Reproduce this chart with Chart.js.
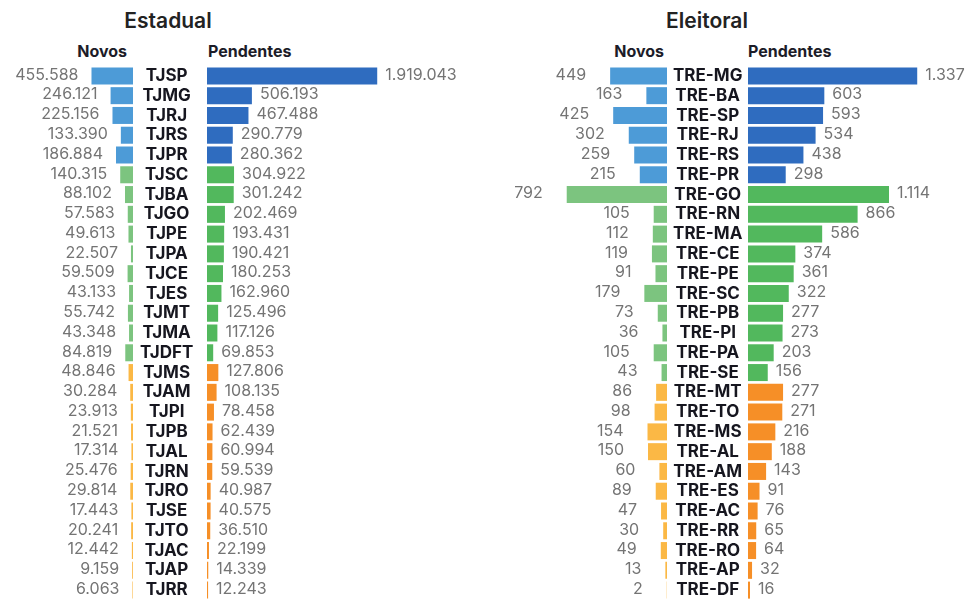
<!DOCTYPE html>
<html>
<head>
<meta charset="utf-8">
<script src="https://cdn.jsdelivr.net/npm/chart.js@4.4.1/dist/chart.umd.min.js"></script>
<style>
  body { margin: 0; background: #fff; width: 970px; height: 601px; overflow: hidden; font-family: Inter, "Noto Sans", sans-serif; }
  .box { position: absolute; }
  .title { position: absolute; font-size: 21px; font-weight: 600; color: #222; transform: translateX(-50%); top: 8px; }
  .head { position: absolute; font-size: 16px; font-weight: 700; color: #1c1c28; top: 41px; }
</style>
</head>
<body>

<div class="title" style="left:168px">Estadual</div>
<div class="head" style="right:843px">Novos</div>
<div class="head" style="left:208px">Pendentes</div>

<div class="title" style="left:707px">Eleitoral</div>
<div class="head" style="right:306px">Novos</div>
<div class="head" style="left:748px">Pendentes</div>

<canvas id="estNovos" class="box" style="left:10px;top:66px" width="197" height="534"></canvas>
<canvas id="estPend" class="box" style="left:207px;top:66px" width="263" height="534"></canvas>
<canvas id="eleNovos" class="box" style="left:500px;top:66px" width="248" height="534"></canvas>
<canvas id="elePend" class="box" style="left:748px;top:66px" width="222" height="534"></canvas>

<script>
// Justiça Estadual
const tribunaisEstadual = ['TJSP', 'TJMG', 'TJRJ', 'TJRS', 'TJPR', 'TJSC', 'TJBA', 'TJGO', 'TJPE', 'TJPA',
  'TJCE', 'TJES', 'TJMT', 'TJMA', 'TJDFT', 'TJMS', 'TJAM', 'TJPI', 'TJPB', 'TJAL', 'TJRN', 'TJRO', 'TJSE',
  'TJTO', 'TJAC', 'TJAP', 'TJRR'];
const novosEstadual = [455588, 246121, 225156, 133390, 186884, 140315, 88102, 57583, 49613, 22507,
  59509, 43133, 55742, 43348, 84819, 48846, 30284, 23913, 21521, 17314, 25476, 29814, 17443,
  20241, 12442, 9159, 6063];
const pendentesEstadual = [1919043, 506193, 467488, 290779, 280362, 304922, 301242, 202469, 193431, 190421,
  180253, 162960, 125496, 117126, 69853, 127806, 108135, 78458, 62439, 60994, 59539, 40987, 40575,
  36510, 22199, 14339, 12243];
const porteEstadual = ['grande', 'grande', 'grande', 'grande', 'grande',
  'medio', 'medio', 'medio', 'medio', 'medio', 'medio', 'medio', 'medio', 'medio', 'medio',
  'pequeno', 'pequeno', 'pequeno', 'pequeno', 'pequeno', 'pequeno', 'pequeno', 'pequeno',
  'pequeno', 'pequeno', 'pequeno', 'pequeno'];

// Justiça Eleitoral
const tribunaisEleitoral = ['TRE-MG', 'TRE-BA', 'TRE-SP', 'TRE-RJ', 'TRE-RS', 'TRE-PR', 'TRE-GO', 'TRE-RN',
  'TRE-MA', 'TRE-CE', 'TRE-PE', 'TRE-SC', 'TRE-PB', 'TRE-PI', 'TRE-PA', 'TRE-SE', 'TRE-MT', 'TRE-TO',
  'TRE-MS', 'TRE-AL', 'TRE-AM', 'TRE-ES', 'TRE-AC', 'TRE-RR', 'TRE-RO', 'TRE-AP', 'TRE-DF'];
const novosEleitoral = [449, 163, 425, 302, 259, 215, 792, 105, 112, 119, 91, 179, 73, 36, 105, 43,
  86, 98, 154, 150, 60, 89, 47, 30, 49, 13, 2];
const pendentesEleitoral = [1337, 603, 593, 534, 438, 298, 1114, 866, 586, 374, 361, 322, 277, 273, 203, 156,
  277, 271, 216, 188, 143, 91, 76, 65, 64, 32, 16];
const porteEleitoral = ['grande', 'grande', 'grande', 'grande', 'grande', 'grande',
  'medio', 'medio', 'medio', 'medio', 'medio', 'medio', 'medio', 'medio', 'medio', 'medio',
  'pequeno', 'pequeno', 'pequeno', 'pequeno', 'pequeno', 'pequeno', 'pequeno', 'pequeno',
  'pequeno', 'pequeno', 'pequeno'];

const coresNovos = { grande: '#4d9bd7', medio: '#7cc47f', pequeno: '#fbb845' };
const coresPendentes = { grande: '#2f6cbf', medio: '#52b85d', pequeno: '#f68f27' };

const formatar = (v) => String(v).replace(/\B(?=(\d{3})+(?!\d))/g, '.');

// draws the number next to the end of each bar
const valueLabels = {
  id: 'valueLabels',
  afterDatasetsDraw(chart, args, opts) {
    const ctx = chart.ctx;
    const meta = chart.getDatasetMeta(0);
    const data = chart.data.datasets[0].data;
    ctx.save();
    ctx.font = '400 16px Inter, "Noto Sans", sans-serif';
    ctx.fillStyle = '#747474';
    ctx.textBaseline = 'middle';
    meta.data.forEach((bar, i) => {
      const txt = formatar(data[i]);
      if (opts.side === 'left') {
        ctx.textAlign = 'right';
        ctx.fillText(txt, bar.x - opts.gap, bar.y - 1);
      } else {
        ctx.textAlign = 'left';
        ctx.fillText(txt, bar.x + opts.gap, bar.y - 1);
      }
    });
    ctx.restore();
  }
};

function criarNovos(id, labels, valores, porte, max, gap, labelPad, axisWidth) {
  new Chart(document.getElementById(id), {
    type: 'bar',
    data: {
      labels: labels,
      datasets: [{
        data: valores,
        backgroundColor: porte.map(p => coresNovos[p]),
        barPercentage: 0.86,
        categoryPercentage: 1,
      }],
    },
    options: {
      indexAxis: 'y',
      responsive: false,
      animation: false,
      layout: { padding: 0 },
      scales: {
        x: { display: false, reverse: true, min: 0, max: max },
        y: {
          position: 'right',
          grid: { display: false, drawTicks: false },
          border: { display: false },
          ticks: {
            autoSkip: false,
            crossAlign: 'center',
            padding: labelPad,
            color: '#16161f',
            font: { family: 'Inter, "Noto Sans", sans-serif', size: 17, weight: 'bold' },
          },
          // fixed width for the label column, and no extra room above/below the rows
          afterFit: (scale) => {
            scale.width = axisWidth;
            scale.paddingTop = 0;
            scale.paddingBottom = 0;
          },
        },
      },
      plugins: {
        legend: { display: false },
        tooltip: { enabled: false },
        valueLabels: { side: 'left', gap: gap },
      },
    },
    plugins: [valueLabels],
  });
}

function criarPendentes(id, labels, valores, porte, max, gap) {
  new Chart(document.getElementById(id), {
    type: 'bar',
    data: {
      labels: labels,
      datasets: [{
        data: valores,
        backgroundColor: porte.map(p => coresPendentes[p]),
        barPercentage: 0.86,
        categoryPercentage: 1,
      }],
    },
    options: {
      indexAxis: 'y',
      responsive: false,
      animation: false,
      layout: { padding: 0 },
      scales: {
        x: { display: false, min: 0, max: max },
        y: { display: false },
      },
      plugins: {
        legend: { display: false },
        tooltip: { enabled: false },
        valueLabels: { side: 'right', gap: gap },
      },
    },
    plugins: [valueLabels],
  });
}

criarNovos('estNovos', tribunaisEstadual, novosEstadual, porteEstadual, 1350000, 13, 7, 74);
criarPendentes('estPend', tribunaisEstadual, pendentesEstadual, porteEstadual, 2965000, 8);
criarNovos('eleNovos', tribunaisEleitoral, novosEleitoral, porteEleitoral, 1319, 24, 6, 81);
criarPendentes('elePend', tribunaisEleitoral, pendentesEleitoral, porteEleitoral, 1754, 8);
</script>
</body>
</html>
